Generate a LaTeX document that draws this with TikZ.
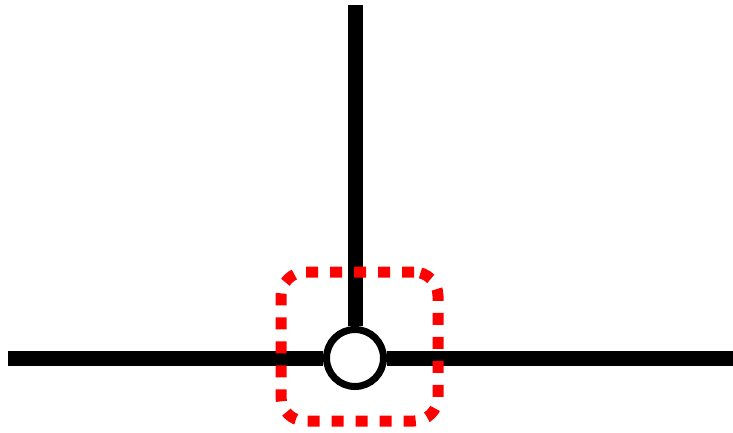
\documentclass[tikz,border=0pt]{standalone}
\usetikzlibrary{positioning}

\begin{document}
\begin{tikzpicture}[x=1pt, y=-1pt,
  wire/.style={line width=15pt, draw=black},
  joint/.style={circle, draw=black, line width=7pt, fill=white,
                minimum size=57pt, inner sep=0pt},
  focus/.style={rectangle, rounded corners=24pt, draw=red, line width=11pt,
                dash pattern=on 12pt off 12pt,
                minimum width=157pt, minimum height=149pt}
]
\useasboundingbox (0,0) rectangle (733,432);

% Junction
\node[joint] (junc) at (355,358) {};

% Wire ends
\coordinate (topend) at (355,5);
\coordinate (leftend) at (8,358);
\coordinate (rightend) at (733,358);

% Wires
\draw[wire] (topend) -- (junc.north);
\draw[wire] (leftend) -- (junc.west);
\draw[wire] (junc.east) -- (rightend);

% Highlight
\node[focus] (mark) at (359.5,346.5) {};
\end{tikzpicture}
\end{document}
